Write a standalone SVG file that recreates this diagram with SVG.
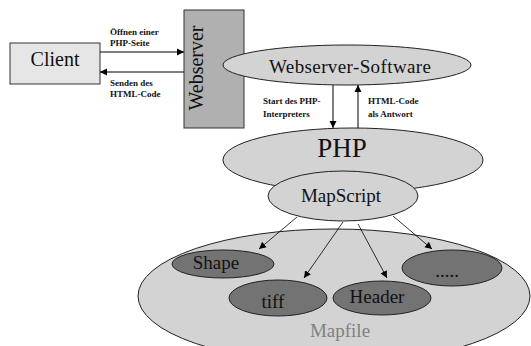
<svg xmlns="http://www.w3.org/2000/svg" width="531" height="346" viewBox="0 0 531 346">
<defs>
<marker id="ah" markerWidth="8" markerHeight="8" refX="7" refY="4" orient="auto" markerUnits="userSpaceOnUse">
<path d="M0,0.5 L7,4 L0,7.5 Z" fill="#000"/>
</marker>
<style>
text{font-family:"Liberation Serif","Times New Roman",serif;fill:#111}
.lbl{font-size:9px;font-weight:bold}
.e{fill:#d3d3d3;stroke:#222;stroke-width:1}
.d{fill:#737373;stroke:#222;stroke-width:1}
.c{stroke:#000;stroke-width:1;fill:none;marker-end:url(#ah)}
.t{stroke:#000;stroke-width:0.8;fill:none;marker-end:url(#ah)}
</style>
</defs>
<rect width="531" height="346" fill="#fff"/>
<g id="client">
<rect x="10" y="43" width="90" height="41" fill="#e6e6e6" stroke="#333" stroke-width="1"/>
<text x="55" y="66" font-size="20" text-anchor="middle">Client</text>
</g>
<g id="webserver">
<rect x="184" y="10" width="60" height="118" fill="#b0b0b0" stroke="#333" stroke-width="1"/>
<text transform="translate(203,68) rotate(-90)" font-size="20" text-anchor="middle">Webserver</text>
</g>
<g id="mapfile">
<ellipse class="e" cx="334" cy="296" rx="196" ry="67"/>
<text x="340" y="337" font-size="19" text-anchor="middle" style="fill:#808080">Mapfile</text>
</g>
<g id="webserver-software">
<ellipse class="e" cx="347" cy="65" rx="124" ry="20"/>
<text x="350" y="73" font-size="19" text-anchor="middle" textLength="162" lengthAdjust="spacing">Webserver-Software</text>
</g>
<g id="php">
<ellipse class="e" cx="353" cy="160" rx="130" ry="32"/>
<text x="342" y="157" font-size="27" text-anchor="middle">PHP</text>
</g>
<g id="mapscript">
<ellipse class="e" cx="343" cy="196" rx="75" ry="25"/>
<text x="341" y="202" font-size="19" text-anchor="middle">MapScript</text>
</g>
<g id="shape">
<ellipse class="d" cx="223" cy="264" rx="51" ry="14"/>
<text x="216" y="269" font-size="19" text-anchor="middle">Shape</text>
</g>
<g id="tiff">
<ellipse class="d" cx="278" cy="298" rx="49" ry="18"/>
<text x="273" y="308" font-size="19" text-anchor="middle">tiff</text>
</g>
<g id="header">
<ellipse class="d" cx="382" cy="298" rx="49" ry="17"/>
<text x="377" y="303" font-size="19" text-anchor="middle">Header</text>
</g>
<g id="more">
<ellipse class="d" cx="452" cy="268" rx="50" ry="18"/>
<text x="447" y="277" font-size="19" text-anchor="middle">.....</text>
</g>
<g id="connectors">
<line class="c" x1="100" y1="52" x2="184" y2="52"/>
<line class="c" x1="184" y1="72" x2="100" y2="72"/>
<line class="c" x1="333" y1="85" x2="333" y2="128"/>
<line class="c" x1="358" y1="128" x2="358" y2="85"/>
<line class="t" x1="297" y1="217" x2="259" y2="249"/>
<line class="t" x1="343" y1="222" x2="304" y2="278"/>
<line class="t" x1="358" y1="224" x2="387" y2="278"/>
<line class="t" x1="393" y1="216" x2="432" y2="249"/>
<text class="lbl" x="110" y="35">Öffnen einer</text>
<text class="lbl" x="110" y="46">PHP-Seite</text>
<text class="lbl" x="110" y="86">Senden des</text>
<text class="lbl" x="110" y="97">HTML-Code</text>
<text class="lbl" x="263" y="104">Start des PHP-</text>
<text class="lbl" x="263" y="117">Interpreters</text>
<text class="lbl" x="368" y="104">HTML-Code</text>
<text class="lbl" x="368" y="117">als Antwort</text>
</g>
</svg>
